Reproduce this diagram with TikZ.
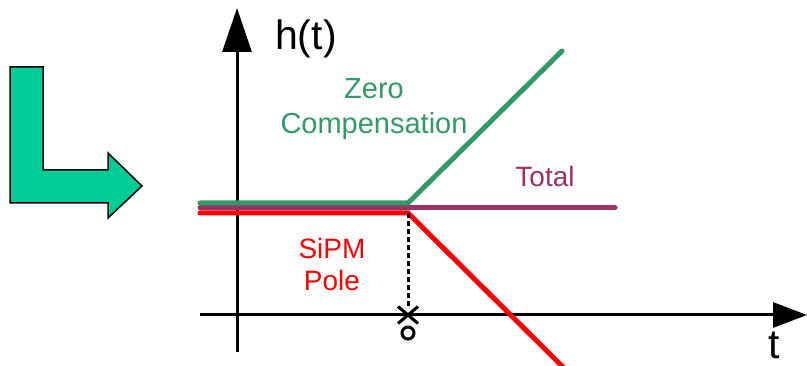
\documentclass[tikz,border=0pt]{standalone}
\usepackage{fontspec}
\setmainfont{Liberation Sans}
\usetikzlibrary{
    arrows.meta,
    shapes.misc
}
\definecolor{zerogreen}{RGB}{51,153,102}
\definecolor{totalpurple}{RGB}{153,51,102}
\definecolor{polered}{RGB}{255,0,0}
\definecolor{turnteal}{RGB}{0,204,153}
\tikzset{
  axis/.style={
    black,
    line width=3pt
  },
  curve/.style={
    line width=5pt,
    line cap=round
  },
  lbl/.style={
    inner sep=0pt,
    align=center,
    font=\fontsize{28}{34}\selectfont
  }
}

\begin{document}
\begin{tikzpicture}[x=1pt,y=-1pt]
    \useasboundingbox (0,0) rectangle (807,366);
    %-------------------------
    %turn arrow
    %-------------------------
    \filldraw[fill=turnteal, draw=black, line width=1.5pt]
        (10,67) -- (43,67) -- (43,170) -- (108,170) -- (108,153)
        -- (142,186) -- (108,218) -- (108,203) -- (10,203) -- cycle;

    %-------------------------
    %axes
    %-------------------------
    \coordinate (ybot) at (237,352);
    \coordinate (ytop) at (237,8);
    \coordinate (xleft) at (200,315);
    \coordinate (xright) at (807,315);

    \draw[axis, -{Triangle[length=44pt,width=29pt]}] (ybot) -- (ytop);
    \draw[axis, -{Triangle[length=34pt,width=25pt]}] (xleft) -- (xright);

    \node[anchor=base west, inner sep=0pt, font=\fontsize{41}{41}\selectfont] (hlbl) at (275,50) {h(t)};
    \node[anchor=base, inner sep=0pt, font=\fontsize{41}{41}\selectfont] (tlbl) at (774,359) {t};

    %-------------------------
    %responses
    %-------------------------
    \coordinate (rstart) at (200,213);
    \coordinate (rknee) at (408,213);
    \coordinate (rend) at (566,370);
    \coordinate (pstart) at (200,208);
    \coordinate (pend) at (615,208);
    \coordinate (gstart) at (200,203);
    \coordinate (gknee) at (408,203);
    \coordinate (gend) at (562,51);

    \draw[curve, polered] (rstart) -- (rknee) -- (rend);
    \draw[curve, totalpurple] (pstart) -- (pend);
    \draw[curve, zerogreen] (gstart) -- (gknee) -- (gend);

    %-------------------------
    %pole and zero
    %-------------------------
    \node[draw, cross out, line width=3pt, minimum width=17pt, minimum height=14pt, inner sep=0pt] (polex) at (408,315) {};
    \node[draw, circle, line width=3pt, minimum size=12pt, inner sep=0pt] (zeroo) at (408,333) {};
    \draw[black, line width=3pt, dash pattern=on 5pt off 3pt] (rknee) -- (polex.north);

    %-------------------------
    %labels
    %-------------------------
    \node[lbl, zerogreen, anchor=north, font=\fontsize{29}{35}\selectfont] (zerolbl) at (374,78) {Zero\\Compensation};
    \node[lbl, totalpurple, anchor=base] (totallbl) at (545,187) {Total};
    \node[lbl, polered, anchor=north, font=\fontsize{28}{32}\selectfont] (polelbl) at (332,238) {SiPM\\Pole};

\end{tikzpicture}
\end{document}
